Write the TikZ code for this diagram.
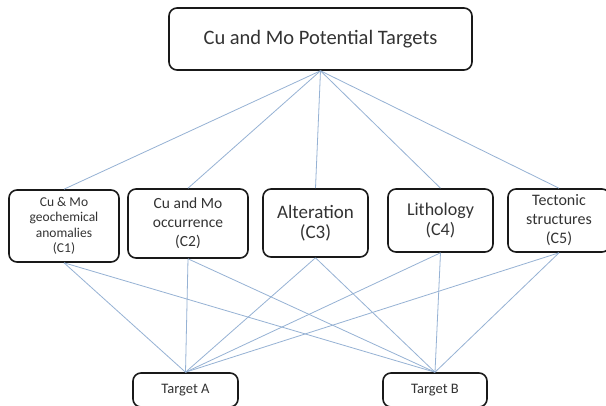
\documentclass[tikz,border=0pt]{standalone}
\usepackage{fontspec}
\setmainfont{Carlito}
\definecolor{linkblue}{RGB}{150,178,212}
\definecolor{boxline}{RGB}{25,25,25}
\begin{document}
\begin{tikzpicture}[x=1pt,y=-1pt,
  box/.style={draw=boxline,line width=1.6pt,rounded corners=8pt,fill=white,
    align=center,inner sep=0pt,text=black!80},
  link/.style={draw=linkblue,line width=0.8pt}]
\useasboundingbox (0,0) rectangle (606,405);
\clip (0,0) rectangle (606,405);
\fill[white] (0,0) rectangle (606,405);
% nodes
\node[box,minimum width=303pt,minimum height=62pt,font=\fontsize{20.5}{24}\selectfont] (top) at (320.5,39) {Cu and Mo Potential Targets};
\node[box,minimum width=110pt,minimum height=72pt,font=\fontsize{13.5}{15.5}\selectfont] (c1) at (64,226) {Cu \& Mo\\geochemical\\anomalies\\(C1)};
\node[box,minimum width=120pt,minimum height=69pt,font=\fontsize{15.5}{19}\selectfont] (c2) at (188,223.5) {Cu and Mo\\occurrence\\(C2)};
\node[box,minimum width=105pt,minimum height=68pt,font=\fontsize{19}{20}\selectfont] (c3) at (315.5,223) {Alteration\\(C3)};
\node[box,minimum width=105pt,minimum height=63pt,font=\fontsize{18}{20}\selectfont] (c4) at (440.5,220.5) {Lithology\\(C4)};
\node[box,minimum width=102pt,minimum height=63pt,font=\fontsize{16}{19}\selectfont] (c5) at (559,220.5) {Tectonic\\structures\\(C5)};
\node[box,minimum width=105pt,minimum height=34pt,font=\fontsize{14.5}{17}\selectfont] (ta) at (185.5,390) {Target A};
\node[box,minimum width=104pt,minimum height=34pt,font=\fontsize{14.5}{17}\selectfont] (tb) at (435,390) {Target B};
% links
\foreach \c in {c1,c2,c3,c4,c5}{
  \draw[link] (top.south) -- (\c.north);
  \draw[link] (\c.south) -- (ta.north);
  \draw[link] (\c.south) -- (tb.north);
}
\end{tikzpicture}
\end{document}
